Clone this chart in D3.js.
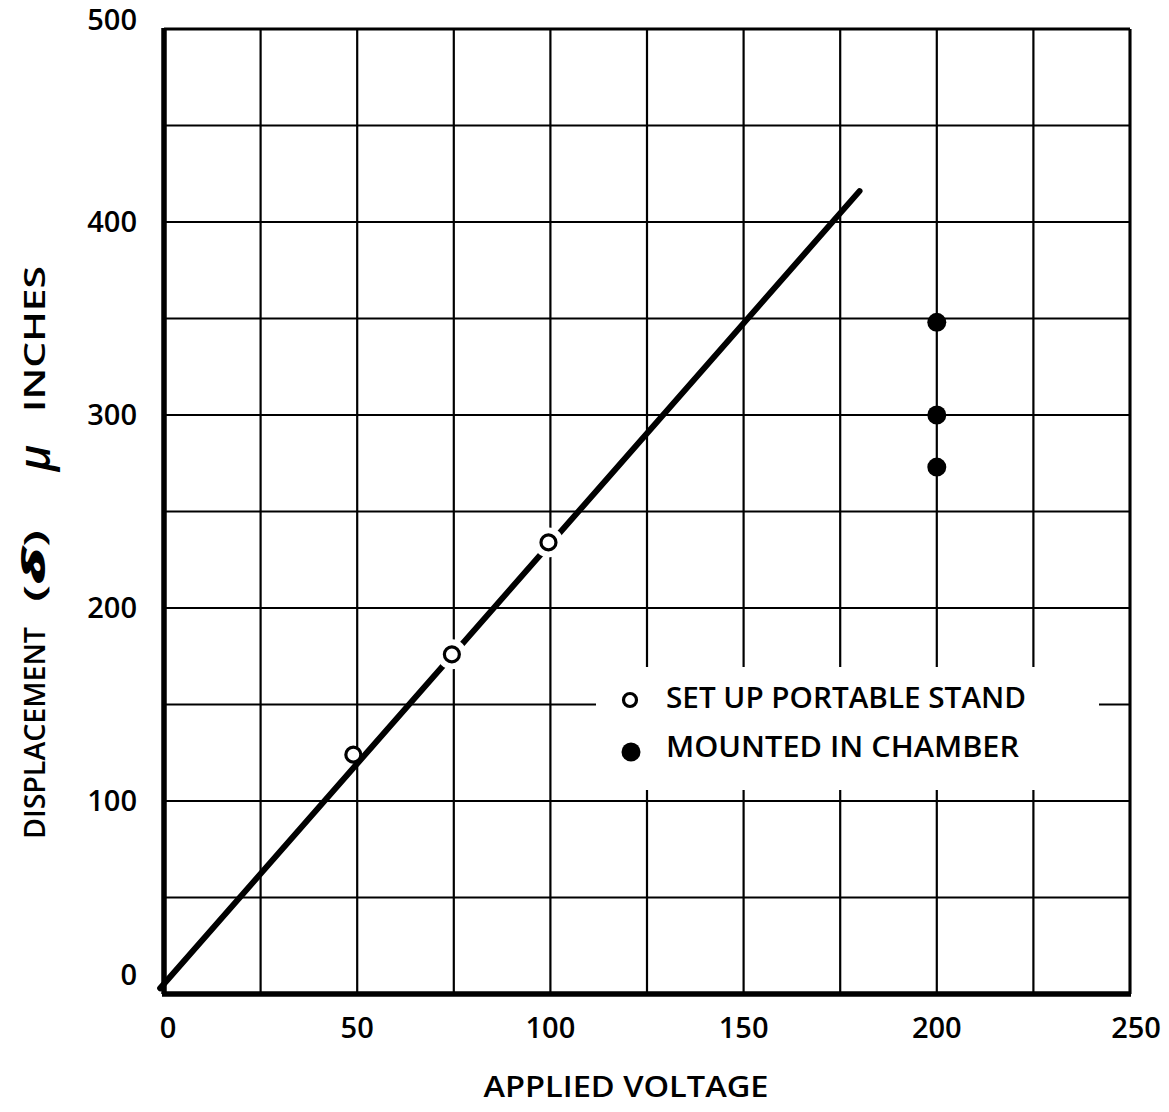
<!DOCTYPE html>
<html lang="en">
<head>
  <meta charset="UTF-8">
  <title>Displacement vs Applied Voltage</title>
  <script src="https://d3js.org/d3.v7.min.js"></script>
  <style>
    body { margin: 0; background: #fff; }
    text { font-family: "Open Sans", sans-serif; font-weight: 600; fill: #000; }
  </style>
</head>
<body>
  <svg id="chart"></svg>
  <script>
    // data
    const xTicks = [0, 50, 100, 150, 200, 250];
    const yTicks = [0, 100, 200, 300, 400, 500];
    const xGrid = d3.range(0, 251, 25);
    const yGrid = d3.range(0, 501, 50);
    const portable = [[49, 124], [74.5, 176], [99.5, 234]];   // open circles
    const chamber = [[200, 348], [200, 300], [200, 273]];      // filled circles
    const fitLine = [[-1, 3], [180, 416]];
    const legendItems = ["SET UP PORTABLE STAND", "MOUNTED IN CHAMBER"];

    const W = 1169, H = 1112;
    const margin = {top: 29, right: 39, bottom: 118, left: 164};
    const width = W - margin.left - margin.right,
          height = H - margin.top - margin.bottom;

    const svg = d3.select("#chart").attr("width", W).attr("height", H);
    const g = svg.append("g").attr("transform", `translate(${margin.left}, ${margin.top})`);

    const x = d3.scaleLinear().domain([0, 250]).range([0, width]);
    const y = d3.scaleLinear().domain([0, 500]).range([height, 0]);

    // grid
    g.append("g").selectAll("line").data(xGrid).join("line")
      .attr("x1", d => x(d)).attr("x2", d => x(d))
      .attr("y1", 0).attr("y2", height)
      .attr("stroke", "#000").attr("stroke-width", 2.2);
    g.append("g").selectAll("line").data(yGrid).join("line")
      .attr("x1", 0).attr("x2", width)
      .attr("y1", d => y(d)).attr("y2", d => y(d))
      .attr("stroke", "#000").attr("stroke-width", 2.2);

    // heavy left / bottom axes, lighter top / right frame
    g.append("line").attr("x1", 0).attr("x2", 0).attr("y1", -1).attr("y2", height)
      .attr("stroke", "#000").attr("stroke-width", 5.5);
    g.append("line").attr("x1", -2).attr("x2", width + 1).attr("y1", height).attr("y2", height)
      .attr("stroke", "#000").attr("stroke-width", 5.5);
    g.append("line").attr("x1", width).attr("x2", width).attr("y1", 0).attr("y2", height)
      .attr("stroke", "#000").attr("stroke-width", 3);
    g.append("line").attr("x1", 0).attr("x2", width).attr("y1", 0).attr("y2", 0)
      .attr("stroke", "#000").attr("stroke-width", 3);

    // legend box knocks out the grid
    const lx = 432, ly = 638;
    g.append("rect").attr("x", lx).attr("y", ly).attr("width", 503).attr("height", 123)
      .attr("fill", "#fff");

    // fit line
    const line = d3.line().x(d => x(d[0])).y(d => y(d[1]));
    g.append("path").attr("d", line(fitLine))
      .attr("fill", "none").attr("stroke", "#000").attr("stroke-width", 6)
      .attr("stroke-linecap", "round");

    // white halos break the line around the upper two points
    g.append("g").selectAll("circle").data(portable.slice(1)).join("circle")
      .attr("cx", d => x(d[0])).attr("cy", d => y(d[1])).attr("r", 15)
      .attr("fill", "#fff");

    g.append("g").selectAll("circle").data(portable).join("circle")
      .attr("cx", d => x(d[0])).attr("cy", d => y(d[1])).attr("r", 7.5)
      .attr("fill", "#fff").attr("stroke", "#000").attr("stroke-width", 3.2);

    g.append("g").selectAll("circle").data(chamber).join("circle")
      .attr("cx", d => x(d[0])).attr("cy", d => y(d[1])).attr("r", 9.5)
      .attr("fill", "#000");

    // legend
    const leg = g.append("g").attr("transform", `translate(${lx}, ${ly})`);
    leg.append("circle").attr("cx", 34).attr("cy", 33).attr("r", 6.5)
      .attr("fill", "#fff").attr("stroke", "#000").attr("stroke-width", 3.2);
    leg.append("circle").attr("cx", 35).attr("cy", 85).attr("r", 9.5).attr("fill", "#000");
    leg.selectAll("text").data(legendItems).join("text")
      .attr("x", 70).attr("y", (d, i) => 41 + i * 49)
      .attr("font-size", 28)
      .attr("textLength", (d, i) => i === 0 ? 360 : 353)
      .attr("lengthAdjust", "spacingAndGlyphs")
      .text(d => d);

    // tick labels
    g.append("g").selectAll("text").data(xTicks).join("text")
      .attr("x", d => x(d) + (d === 0 ? 4 : d === 250 ? 6 : 0))
      .attr("y", height + 44)
      .attr("text-anchor", "middle").attr("font-size", 29)
      .text(d => d);
    g.append("g").selectAll("text").data(yTicks).join("text")
      .attr("x", -27)
      .attr("y", d => y(d) + 10 + (d === 0 ? -19 : d === 500 ? -9 : 0))
      .attr("text-anchor", "end").attr("font-size", 29)
      .text(d => d);

    // axis titles
    svg.append("text")
      .attr("x", 626).attr("y", 1097)
      .attr("text-anchor", "middle").attr("font-size", 28)
      .attr("textLength", 285).attr("lengthAdjust", "spacingAndGlyphs")
      .text("APPLIED VOLTAGE");

    const yTitle = svg.append("g").attr("transform", "translate(45, 0) rotate(-90)");
    const ypart = (text, yc, len, extra) => {
      const t = yTitle.append("text")
        .attr("x", -yc).attr("y", 0)
        .attr("text-anchor", "middle").attr("font-size", 28)
        .text(text);
      if (len) t.attr("textLength", len).attr("lengthAdjust", "spacingAndGlyphs");
      if (extra) extra(t);
      return t;
    };
    ypart("DISPLACEMENT", 733, 212);
    ypart("(δ)", 566, 72, t => t.text("").call(s => {
      s.append("tspan").text("(");
      s.append("tspan").attr("font-style", "italic").attr("font-weight", 800).attr("font-size", 32).text("δ");
      s.append("tspan").text(")");
    }));
    ypart("μ", 458, null, t => t.attr("font-style", "italic").attr("font-weight", 800)
      .attr("font-size", 44).attr("y", 5));
    ypart("INCHES", 339, 146);
  </script>
</body>
</html>
